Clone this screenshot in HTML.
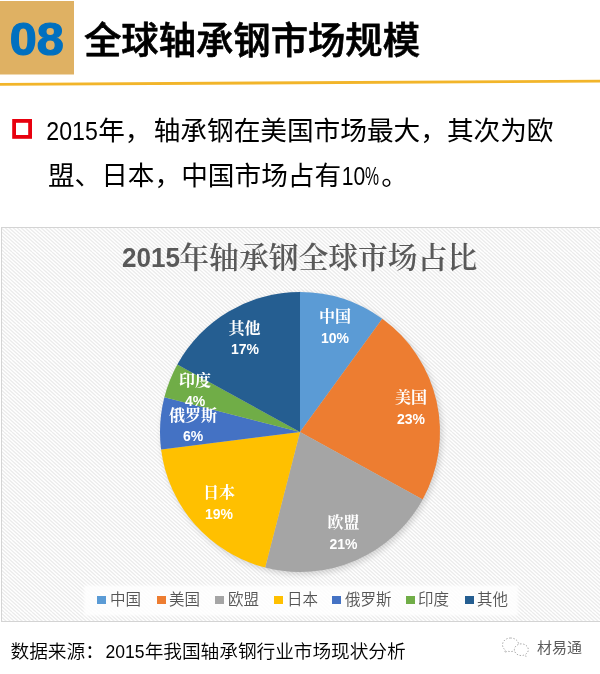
<!DOCTYPE html>
<html lang="zh-CN">
<head>
<meta charset="utf-8">
<title>全球轴承钢市场规模</title>
<style>
html,body{margin:0;padding:0;background:#fff;}
body{width:600px;height:674px;overflow:hidden;position:relative;}
svg{position:absolute;left:0;top:0;display:block;opacity:0.999;}
.sans{font-family:"Liberation Sans","Noto Sans CJK SC",sans-serif;}
.serif{font-family:"Liberation Serif","Noto Serif CJK SC",serif;}
</style>
</head>
<body>
<svg width="600" height="674" viewBox="0 0 600 674">
<defs>
<pattern id="hatch" width="40" height="36" patternUnits="userSpaceOnUse">
<rect width="40" height="36" fill="#fff"/>
<path d="M-40,0 L0,36 M-36,0 L4,36 M-32,0 L8,36 M-28,0 L12,36 M-24,0 L16,36 M-20,0 L20,36 M-16,0 L24,36 M-12,0 L28,36 M-8,0 L32,36 M-4,0 L36,36 M0,0 L40,36 M4,0 L44,36 M8,0 L48,36 M12,0 L52,36 M16,0 L56,36 M20,0 L60,36 M24,0 L64,36 M28,0 L68,36 M32,0 L72,36 M36,0 L76,36 M40,0 L80,36" stroke="#ebebeb" stroke-width="1.25"/>
</pattern>
<filter id="sh" x="-20%" y="-20%" width="140%" height="140%">
<feGaussianBlur stdDeviation="3"/>
</filter>
<filter id="soft" x="-5%" y="-20%" width="110%" height="140%">
<feGaussianBlur stdDeviation="1"/>
</filter>
</defs>
<rect width="600" height="674" fill="#fff"/>

<!-- header -->
<rect x="0" y="1" width="74" height="73.5" fill="#DFB163"/>
<text x="9.8" y="55.2" class="sans" font-size="45.5" font-weight="bold" fill="#0070C0" stroke="#0070C0" stroke-width="1.2" textLength="54" lengthAdjust="spacingAndGlyphs">08</text>
<text x="84" y="54" class="sans" font-size="37.33" font-weight="500" fill="#000" stroke="#000" stroke-width="0.7">全球轴承钢市场规模</text>
<polygon points="0,82.9 600,79.8 600,82.6 0,85.7" fill="#F2B52A"/>

<!-- bullet -->
<rect x="14.1" y="120.9" width="16" height="16" fill="#fff" stroke="#E8000E" stroke-width="3.8"/>
<g class="sans" font-size="26.67" fill="#000">
<text x="46.3" y="140" textLength="51.5" lengthAdjust="spacingAndGlyphs">2015</text>
<text x="98.2" y="140">年，</text>
<text x="153.7" y="140">轴承钢在美国市场最大，其次为欧</text>
<text x="47.9" y="185">盟、日本，中国市场占有</text>
<text x="341.8" y="185" textLength="23.5" lengthAdjust="spacingAndGlyphs">10</text>
<text x="365" y="185" textLength="14" lengthAdjust="spacingAndGlyphs">%</text>
<text x="381.3" y="185">。</text>
</g>

<!-- chart -->
<rect x="1.5" y="227.5" width="620" height="394" fill="url(#hatch)" stroke="#d4d4d4" stroke-width="1"/>
<text x="122" y="266.8" font-family="'Liberation Sans',sans-serif" font-weight="bold" font-size="27" fill="#595959" textLength="58" lengthAdjust="spacingAndGlyphs">2015</text>
<text x="179.3" y="267.5" class="serif" font-size="29.8" font-weight="600" fill="#595959">年轴承钢全球市场占比</text>

<circle cx="302" cy="434.5" r="140" fill="#000" opacity="0.16" filter="url(#sh)"/>
<g>
<path d="M300,432 L300.00,292.00 A140,140 0 0 1 382.29,318.74 Z" fill="#5B9BD5"/>
<path d="M300,432 L382.29,318.74 A140,140 0 0 1 422.68,499.45 Z" fill="#ED7D31"/>
<path d="M300,432 L422.68,499.45 A140,140 0 0 1 265.18,567.60 Z" fill="#A5A5A5"/>
<path d="M300,432 L265.18,567.60 A140,140 0 0 1 161.10,449.55 Z" fill="#FFC000"/>
<path d="M300,432 L161.10,449.55 A140,140 0 0 1 164.40,397.18 Z" fill="#4472C4"/>
<path d="M300,432 L164.40,397.18 A140,140 0 0 1 177.32,364.55 Z" fill="#70AD47"/>
<path d="M300,432 L177.32,364.55 A140,140 0 0 1 300.00,292.00 Z" fill="#255E91"/>
</g>

<g fill="#fff" text-anchor="middle" font-size="16">
<text x="335" y="322" class="serif" font-weight="700">中国</text><text x="335" y="343" class="sans" font-weight="bold" font-size="14">10%</text>
<text x="411" y="403" class="serif" font-weight="700">美国</text><text x="411" y="424" class="sans" font-weight="bold" font-size="14">23%</text>
<text x="343.5" y="528" class="serif" font-weight="700">欧盟</text><text x="343.5" y="549" class="sans" font-weight="bold" font-size="14">21%</text>
<text x="219" y="498" class="serif" font-weight="700">日本</text><text x="219" y="519" class="sans" font-weight="bold" font-size="14">19%</text>
<text x="193" y="421" class="serif" font-weight="700">俄罗斯</text><text x="193" y="441" class="sans" font-weight="bold" font-size="14">6%</text>
<text x="195" y="386" class="serif" font-weight="700">印度</text><text x="195" y="406" class="sans" font-weight="bold" font-size="14">4%</text>
<text x="244.5" y="333.7" class="serif" font-weight="700">其他</text><text x="245" y="354" class="sans" font-weight="bold" font-size="14">17%</text>
</g>

<!-- legend -->
<rect x="84" y="585.5" width="434" height="30" fill="#fff" opacity="0.85" filter="url(#soft)"/>
<g class="sans" font-size="15.5" font-weight="350" fill="#555">
<rect x="97" y="596" width="9" height="8" fill="#5B9BD5"/><text x="110" y="605">中国</text>
<rect x="157" y="596" width="9" height="8" fill="#ED7D31"/><text x="169" y="605">美国</text>
<rect x="215" y="596" width="9" height="8" fill="#A5A5A5"/><text x="228" y="605">欧盟</text>
<rect x="274" y="596" width="9" height="8" fill="#FFC000"/><text x="287" y="605">日本</text>
<rect x="332" y="596" width="9" height="8" fill="#4472C4"/><text x="345" y="605">俄罗斯</text>
<rect x="406" y="596" width="9" height="8" fill="#70AD47"/><text x="418" y="605">印度</text>
<rect x="465" y="596" width="9" height="8" fill="#255E91"/><text x="477" y="605">其他</text>
</g>

<!-- footer -->
<g class="sans" font-size="18.7" font-weight="350" fill="#000">
<text x="10.5" y="658">数据来源：</text>
<text x="105.5" y="658" textLength="39" lengthAdjust="spacingAndGlyphs">2015</text>
<text x="144.7" y="658" textLength="261" lengthAdjust="spacing">年我国轴承钢行业市场现状分析</text>
</g>

<!-- watermark -->
<g fill="#fff" stroke="#a2a2a2" stroke-width="1" stroke-dasharray="1.6 1.8" transform="translate(516,647) scale(0.9) translate(-515,-646.5)">
<path d="M509,636.5 c-5,0 -9,3.4 -9,7.6 c0,2.4 1.3,4.5 3.3,5.9 l-0.9,2.7 l3.2,-1.6 c1.1,0.3 2.2,0.5 3.4,0.5 c5,0 9,-3.4 9,-7.6 c0,-4.2 -4,-7.5 -9,-7.5 z"/>
<path d="M521,643 c-4.3,0 -7.8,2.9 -7.8,6.5 c0,3.6 3.5,6.5 7.8,6.5 c0.9,0 1.8,-0.1 2.6,-0.4 l2.6,1.4 l-0.7,-2.3 c1.9,-1.2 3.2,-3.1 3.2,-5.2 c0,-3.6 -3.5,-6.5 -7.7,-6.5 z"/>
</g>
<text x="537" y="653" class="sans" font-size="15" font-weight="400" fill="#5c5c5c">材易通</text>
</svg>
</body>
</html>
